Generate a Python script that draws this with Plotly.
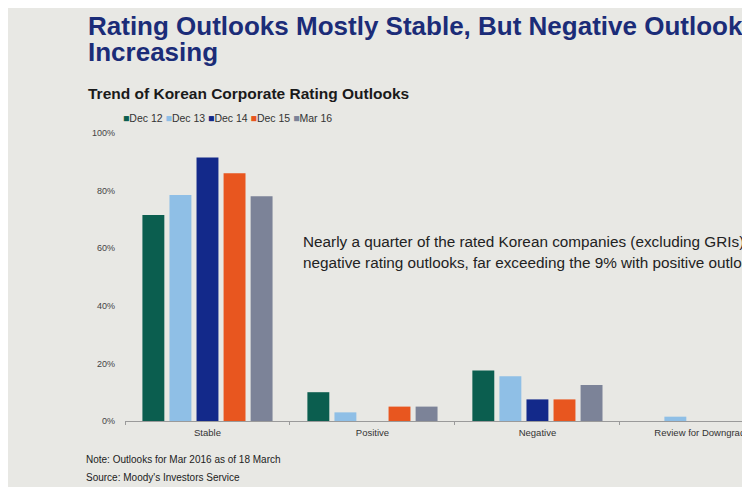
import plotly.graph_objects as go

categories = ["Stable", "Positive", "Negative", "Review for Downgrade"]
series_names = ["Dec 12", "Dec 13", "Dec 14", "Dec 15", "Mar 16"]
dec12 = [71.5, 10.0, 17.5, 0.0]
dec13 = [78.5, 3.0, 15.5, 1.5]
dec14 = [91.5, 0.0, 7.5, 0.0]
dec15 = [86.0, 5.0, 7.5, 0.0]
mar16 = [78.0, 5.0, 12.5, 0.0]
y_ticks = [0, 20, 40, 60, 80, 100]
y_tick_labels = ["0%", "20%", "40%", "60%", "80%", "100%"]

colors = ["#0b5e4f", "#8fbfe6", "#13298a", "#e8561f", "#7c8398"]
values = [dec12, dec13, dec14, dec15, mar16]

# page body has an 8px margin; keep the figure inside the window
OFF = 8
W, H = 750 - OFF, 495 - 2 * OFF
L, R, T, B = 125 - OFF, 0, 133 - OFF, H - (421 - OFF)
PW, PH = W - L - R, H - T - B

def px(x):
    return (x - OFF - L) / PW

def py(y):
    return (H - B - (y - OFF)) / PH

fig = go.Figure()
for name, vals, col in zip(series_names, values, colors):
    fig.add_trace(go.Bar(x=categories, y=vals, name=name, marker_color=col,
                         marker_line_width=0, showlegend=False))

font = "Liberation Sans, Arial, sans-serif"
ann = []
ann.append(dict(text="<b>Rating Outlooks Mostly Stable, But Negative Outlooks</b>",
                x=px(85), y=py(26), xanchor="left", yanchor="middle",
                font=dict(size=26, color="#1b2c78", family=font)))
ann.append(dict(text="<b>Increasing</b>", x=px(85), y=py(52), xanchor="left", yanchor="middle",
                font=dict(size=26, color="#1b2c78", family=font)))
ann.append(dict(text="<b>Trend of Korean Corporate Rating Outlooks</b>", x=px(85), y=py(93),
                xanchor="left", yanchor="middle", font=dict(size=15.5, color="#1a1a1a", family=font)))
legend_txt = " ".join(
    f"<span style='color:{c}'>\u25a0</span>{n}" for n, c in zip(series_names, colors))
ann.append(dict(text=legend_txt, x=px(121), y=py(118), xanchor="left", yanchor="middle",
                font=dict(size=10.5, color="#333333", family=font)))
ann.append(dict(text="Nearly a quarter of the rated Korean companies (excluding GRIs) have",
                x=px(303), y=py(241), xanchor="left", yanchor="middle",
                font=dict(size=15.3, color="#222222", family=font)))
ann.append(dict(text="negative rating outlooks, far exceeding the 9% with positive outlooks",
                x=px(303), y=py(262), xanchor="left", yanchor="middle",
                font=dict(size=15.3, color="#222222", family=font)))
ann.append(dict(text="Note: Outlooks for Mar 2016 as of 18 March", x=px(83), y=py(459),
                xanchor="left", yanchor="middle", font=dict(size=10, color="#222222", family=font)))
ann.append(dict(text="Source: Moody's Investors Service", x=px(83), y=py(477),
                xanchor="left", yanchor="middle", font=dict(size=10, color="#222222", family=font)))
for a in ann:
    a.update(xref="paper", yref="paper", showarrow=False)

fig.update_layout(
    width=W, height=H, margin=dict(l=L, r=R, t=T, b=B, pad=0),
    paper_bgcolor="#e8e8e4", plot_bgcolor="rgba(0,0,0,0)",
    barmode="group", bargap=0.18, bargroupgap=0.19,
    annotations=ann, font=dict(family=font),
)
fig.update_xaxes(range=[-0.5, 3.24], showgrid=False, showline=True, linecolor="#9a9a9a",
                 linewidth=1, ticks="outside", tickson="boundaries", ticklen=3,
                 tickcolor="#9a9a9a", ticklabelstandoff=3,
                 tickfont=dict(size=9.5, color="#333333"))
fig.update_yaxes(range=[0, 100], tickvals=y_ticks, ticktext=y_tick_labels, showgrid=False,
                 zeroline=False, showline=False, ticks="", ticklabelstandoff=9,
                 tickfont=dict(size=9, color="#444444"))

fig.write_html("out.html")
